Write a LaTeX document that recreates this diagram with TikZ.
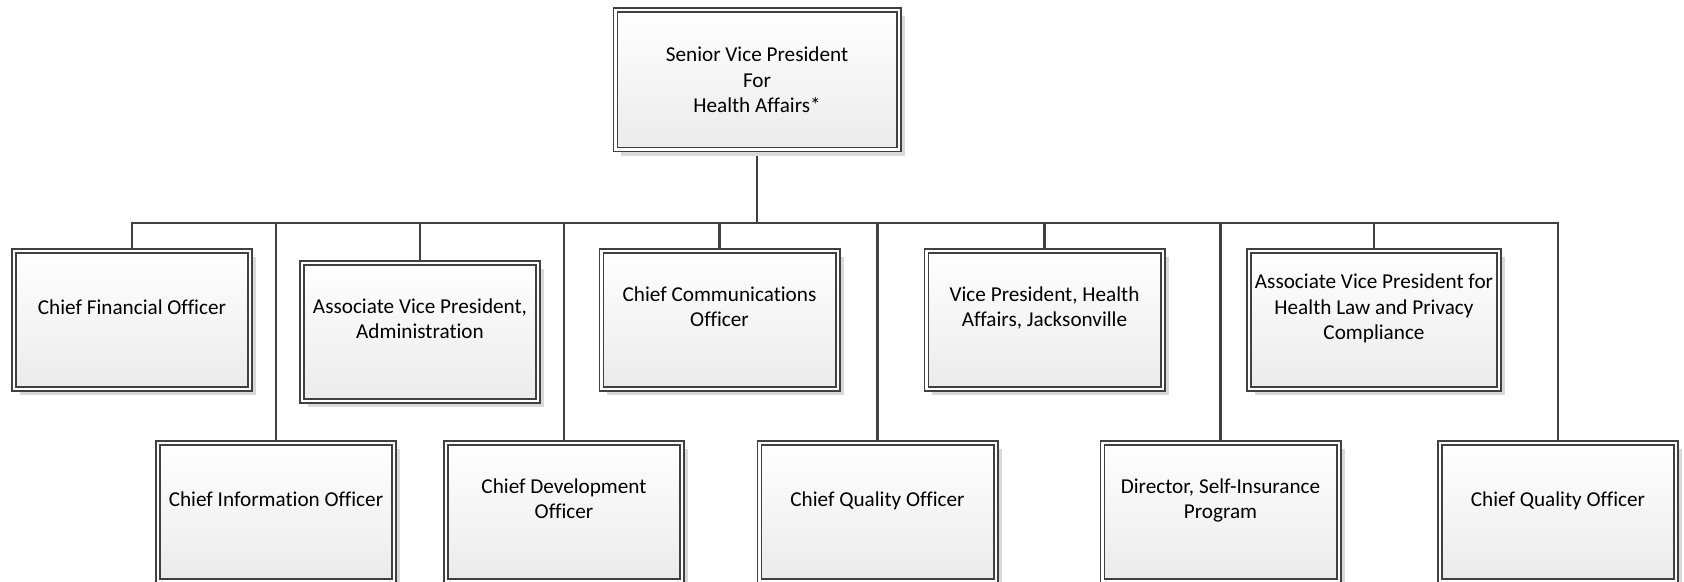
\documentclass[tikz,border=0pt]{standalone}
\usepackage{fontspec}
\setmainfont{Carlito}[Ligatures=NoCommon]
\usetikzlibrary{shadows,backgrounds}
\definecolor{linegray}{HTML}{404040}
\definecolor{fillbottom}{HTML}{EBEBEB}
\newcommand\boxlines[2][2.75pt]{\raisebox{#1}[0pt][0pt]{\begin{tabular}{@{}c@{}}#2\end{tabular}}}
\begin{document}
\begin{tikzpicture}[x=0.5pt,y=-0.5pt,
  orgbox/.style={rectangle, draw=linegray, line width=0.8pt, double=white,
    double distance=1.2pt, top color=white, bottom color=fillbottom,
    minimum width=118.2pt, minimum height=69.2pt, inner sep=0pt,
    font=\fontsize{10.6}{12.8}\selectfont,
    drop shadow={shadow xshift=3pt, shadow yshift=-3pt, fill=black!15, opacity=1}},
  conn/.style={draw=linegray, line width=1.1pt}]
\useasboundingbox (0,0) rectangle (1684,582);

% top
\node[orgbox, minimum width=141.7pt, minimum height=69.7pt] (svp) at (757,80)
  {\boxlines[-3.75pt]{Senior Vice President\\For\\Health Affairs*}};

% first row
\node[orgbox] (cfo)  at (132,320)   {\boxlines{Chief Financial Officer}};
\node[orgbox] (avpa) at (420,332)   {\boxlines{Associate Vice President,\\Administration}};
\node[orgbox] (cco)  at (719.5,320) {\boxlines{Chief Communications\\Officer}};
\node[orgbox] (vpj)  at (1044.5,320) {\boxlines{Vice President, Health\\Affairs, Jacksonville}};
\node[orgbox, minimum width=125.2pt] (avpl) at (1374,320)
  {\boxlines{Associate Vice President for\\Health Law and Privacy\\Compliance}};

% second row
\node[orgbox] (cio)  at (276,512)    {\boxlines{Chief Information Officer}};
\node[orgbox] (cdo)  at (564,512)    {\boxlines{Chief Development\\Officer}};
\node[orgbox] (cqoa) at (877.5,512)  {\boxlines{Chief Quality Officer}};
\node[orgbox] (dir)  at (1220.5,512) {\boxlines{Director, Self-Insurance\\Program}};
\node[orgbox] (cqob) at (1558,512)   {\boxlines{Chief Quality Officer}};

\coordinate (bus) at (757,223);

\begin{scope}[on background layer]
  \draw[conn] (svp.south) -- (svp.south |- bus);
  \draw[conn, line join=miter] (cfo.north) -- (cfo.north |- bus) -- (cqob.north |- bus) -- (cqob.north);
  \foreach \n in {cio,avpa,cdo,cco,cqoa,vpj,dir,avpl}
    \draw[conn] (\n.north |- bus) -- (\n.north);
\end{scope}
\end{tikzpicture}
\end{document}
